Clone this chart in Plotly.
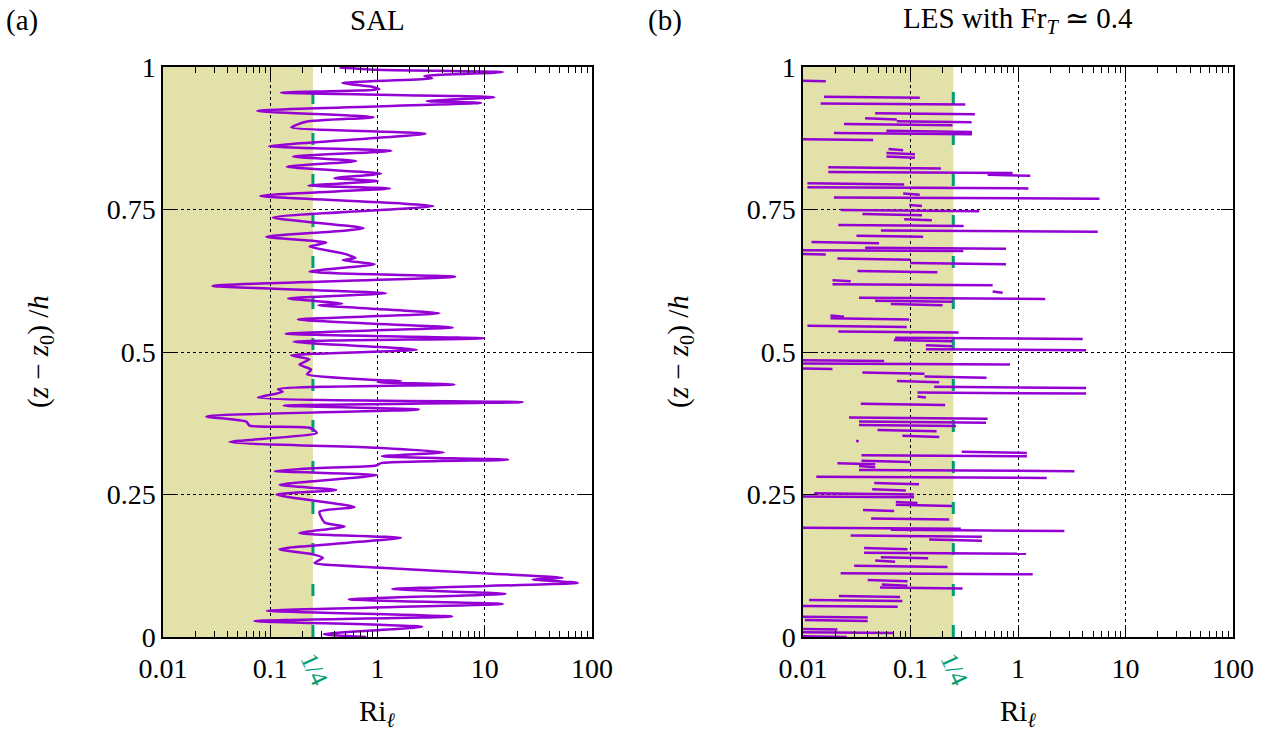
import plotly.graph_objects as go
import numpy as np

# ---------------- data ----------------
# (a) SAL: gradient Richardson number profile (Ri_l, z/h), bottom to top
sal_ri = [0.783, 0.316, 2.61, 0.0714, 4.96, 0.0931, 14.7, 0.541, 15.6, 1.37,
          73.5, 28.0, 53.3, 11.9, 0.973, 0.259, 0.310, 0.25, 0.122, 1.66,
          0.187, 0.493, 0.321, 0.288, 0.611, 0.114,
          0.412, 0.122, 0.993, 0.110, 0.25, 0.973, 1.08, 16.5, 1.10, 4.15,
          0.973, 0.0418, 0.272, 0.232, 0.0641, 0.0597, 0.0254, 2.43, 0.133,
          22.6, 0.0767, 0.131, 0.118, 5.22, 1.0, 1.67, 0.973, 0.220, 0.241,
          0.187, 0.232, 0.157, 2.32,
          0.165, 9.86, 0.139, 5.03, 0.841, 0.181, 3.78, 0.280, 0.469, 0.147,
          1.20, 0.0289, 5.29, 0.232, 0.938, 0.475, 0.624, 0.475, 0.232, 0.333,
          0.0918, 0.741, 0.106, 3.32,
          0.0807, 1.31, 0.226, 1.01, 0.397, 1.08, 0.143, 0.632, 0.163, 1.35,
          0.0973, 2.80, 0.157, 0.216, 0.918, 0.0757, 9.25, 2.88, 12.3, 0.126,
          1.04, 0.906, 0.469, 3.23, 2.74, 14.7, 0.973, 0.443]
sal_z = [0.000, 0.005, 0.018, 0.028, 0.036, 0.046, 0.058, 0.066, 0.076, 0.084,
         0.095, 0.101, 0.104, 0.111, 0.122, 0.130, 0.139, 0.145, 0.154, 0.174,
         0.182, 0.194, 0.201, 0.220, 0.228, 0.250,
         0.258, 0.267, 0.284, 0.291, 0.296, 0.301, 0.305, 0.311, 0.317, 0.324,
         0.332, 0.342, 0.358, 0.367, 0.371, 0.378, 0.387, 0.399, 0.406,
         0.412, 0.420, 0.430, 0.435, 0.443, 0.447, 0.449, 0.451, 0.461, 0.469,
         0.478, 0.487, 0.494, 0.504,
         0.518, 0.524, 0.532, 0.543, 0.550, 0.557, 0.568, 0.582, 0.585, 0.594,
         0.603, 0.616, 0.632, 0.641, 0.654, 0.661, 0.665, 0.673, 0.685, 0.692,
         0.702, 0.717, 0.736, 0.756,
         0.774, 0.787, 0.792, 0.800, 0.805, 0.813, 0.825, 0.835, 0.843, 0.853,
         0.861, 0.883, 0.894, 0.904, 0.912, 0.923, 0.937, 0.940, 0.947, 0.955,
         0.961, 0.965, 0.972, 0.980, 0.984, 0.991, 0.995, 0.999]

# (b) LES, Fr_T ~ 0.4: near-horizontal excursions of Ri_l at each height
# (values below 0.01 leave the axis on the left)
les_z = [0.977, 0.948, 0.936, 0.919, 0.910, 0.905, 0.900, 0.888, 0.884, 0.874,
         0.856, 0.849, 0.843, 0.824, 0.816, 0.811, 0.796, 0.789, 0.778, 0.771,
         0.758, 0.749, 0.742, 0.733, 0.723, 0.713, 0.704, 0.693, 0.683, 0.679,
         0.673, 0.664, 0.656, 0.642, 0.626, 0.619, 0.606, 0.595, 0.590, 0.584,
         0.564, 0.559, 0.546, 0.536, 0.525, 0.521, 0.512, 0.505, 0.486, 0.480,
         0.472, 0.464, 0.457, 0.449, 0.439, 0.429, 0.422, 0.409, 0.385, 0.378,
         0.372, 0.363, 0.353, 0.325, 0.319, 0.309, 0.305, 0.300, 0.293, 0.281,
         0.270, 0.259, 0.252, 0.247, 0.237, 0.232, 0.223, 0.208, 0.192, 0.188,
         0.178, 0.171, 0.156, 0.148, 0.140, 0.134, 0.125, 0.112, 0.100, 0.092,
         0.087, 0.072, 0.065, 0.055, 0.036, 0.030, 0.015, 0.009, 0.002]
les_lo = [0.005, 0.0157, 0.0146, 0.0469, 0.0378, 0.0746, 0.0241, 0.0597, 0.0194, 0.005,
          0.0624, 0.0597, 0.0597, 0.0172, 0.0172, 0.522, 0.0110, 0.0110, 0.0855, 0.0194,
          0.0972, 0.0224, 0.0357, 0.0873, 0.0213, 0.0530, 0.0314, 0.0120, 0.0378, 0.005,
          0.005, 0.0209, 0.0993, 0.0321, 0.0188, 0.0188, 0.581, 0.0332, 0.0469, 0.0656,
          0.0180, 0.0180, 0.0110, 0.0213, 0.072, 0.070, 0.139, 0.139, 0.005, 0.005,
          0.005, 0.0357, 0.135, 0.0748, 0.166, 0.116, 0.116, 0.0345, 0.0268, 0.0332,
          0.0332, 0.0493, 0.084, 0.30, 0.0350, 0.0350, 0.0209, 0.0332, 0.0332, 0.0133,
          0.046, 0.044, 0.0127, 0.005, 0.073, 0.073, 0.0362, 0.043, 0.005, 0.0656,
          0.0278, 0.149, 0.037, 0.037, 0.053, 0.0469, 0.0299, 0.0224, 0.040, 0.054,
          0.052, 0.0216, 0.0114, 0.005, 0.005, 0.0104, 0.005, 0.005, 0.005]
les_hi = [0.0163, 0.122, 0.323, 0.397, 0.0746, 0.370, 0.246, 0.373, 0.373, 0.0449,
          0.0855, 0.110, 0.110, 0.192, 0.891, 1.30, 0.0873, 1.25, 0.122, 5.73,
          0.128, 0.436, 0.128, 0.158, 0.312, 5.52, 0.131, 0.0510, 0.773, 0.31,
          0.0163, 0.0993, 0.773, 0.178, 0.0278, 0.581, 0.719, 1.79, 0.246, 0.199,
          0.0241, 0.0972, 0.0922, 0.280, 4.00, 0.246, 0.246, 4.30, 0.0569, 0.842,
          0.0188, 0.135, 0.51, 0.185, 4.30, 4.30, 0.139, 0.210, 0.522, 0.504,
          0.265, 0.175, 0.185, 1.21, 1.21, 0.100, 0.047, 0.047, 3.35, 1.85,
          0.120, 0.0906, 0.108, 0.108, 0.116, 0.243, 0.0705, 0.229, 0.294, 2.70,
          0.462, 0.462, 0.0938, 1.19, 0.146, 0.072, 0.221, 1.37, 0.0938, 0.0938,
          0.305, 0.080, 0.084, 0.076, 0.040, 0.040, 0.0209, 0.069, 0.0255]
les_dot_ri = [0.0321]
les_dot_z = [0.344]

RI_CRIT = 0.25
X_RANGE = [-2, 2]          # log10 of 0.01 .. 100
x_ticks = [0.01, 0.1, 1, 10, 100]
x_ticktext = ["0.01", "0.1", "1", "10", "100"]
y_ticks = [0, 0.25, 0.5, 0.75, 1]
y_ticktext = ["0", "0.25", "0.5", "0.75", "1"]

# ---------------- style ----------------
W, H = 1273, 736
FONT = "Liberation Serif"
PURPLE = "#9400d3"
GREEN = "#009e73"
SHADE = "#e1e1a9"
FS_TICK = 28
FS_TEXT = 29

def px_x(p):
    return p / W

def px_y(p):
    return 1 - p / H

dom_a = [px_x(163), px_x(592)]
dom_b = [px_x(803), px_x(1233)]
dom_y = [px_y(637), px_y(67)]

fig = go.Figure()

# critical Richardson number marker (dashed)
for xa, ya in (("x", "y"), ("x2", "y2")):
    fig.add_trace(go.Scatter(x=[RI_CRIT, RI_CRIT], y=[0, 1], mode="lines",
                             line=dict(color=GREEN, width=3, dash="12px,29px"),
                             xaxis=xa, yaxis=ya, showlegend=False, hoverinfo="skip"))

# SAL profile
fig.add_trace(go.Scatter(x=sal_ri, y=sal_z, mode="lines",
                         line=dict(color=PURPLE, width=2.5, shape="spline", smoothing=0.6),
                         xaxis="x", yaxis="y", showlegend=False))

# LES profile: one excursion per level
bx, by = [], []
for z, lo, hi in zip(les_z, les_lo, les_hi):
    bx += [lo, hi, None]
    by += [z, z - 0.002, None]
fig.add_trace(go.Scatter(x=bx, y=by, mode="lines",
                         line=dict(color=PURPLE, width=2.5),
                         xaxis="x2", yaxis="y2", showlegend=False, connectgaps=False))
fig.add_trace(go.Scatter(x=les_dot_ri, y=les_dot_z, mode="markers",
                         marker=dict(color=PURPLE, size=3),
                         xaxis="x2", yaxis="y2", showlegend=False))

xax = dict(type="log", range=X_RANGE, tickvals=x_ticks, ticktext=x_ticktext,
           showgrid=True, gridcolor="black", griddash="dot", gridwidth=1,
           ticks="inside", ticklen=12, tickwidth=1, tickcolor="black",
           mirror="allticks", showline=True, linecolor="black", linewidth=1.5,
           zeroline=False, automargin=False, ticklabelstandoff=6,
           tickfont=dict(family=FONT, size=FS_TICK, color="black"),
           minor=dict(ticks="inside", ticklen=6, tickwidth=1, tickcolor="black",
                      showgrid=False, dtick="D1"))
yax = dict(range=[0, 1], tickvals=y_ticks, ticktext=y_ticktext,
           showgrid=True, gridcolor="black", griddash="dot", gridwidth=1,
           ticks="inside", ticklen=12, tickwidth=1, tickcolor="black",
           mirror="allticks", showline=True, linecolor="black", linewidth=1.5,
           zeroline=False, automargin=False,
           tickfont=dict(family=FONT, size=FS_TICK, color="black"))

fig.update_layout(
    template="none",
    width=W, height=H,
    margin=dict(l=0, r=0, t=0, b=0, pad=0, autoexpand=False),
    paper_bgcolor="white", plot_bgcolor="rgba(0,0,0,0)",
    font=dict(family=FONT, size=FS_TEXT, color="black"),
    xaxis=dict(xax, domain=dom_a, anchor="y"),
    yaxis=dict(yax, domain=dom_y, anchor="x"),
    xaxis2=dict(xax, domain=dom_b, anchor="y2"),
    yaxis2=dict(yax, domain=dom_y, anchor="x2"),
)

# stable-stratification band Ri < 1/4 (in axis-domain fractions)
band_right = (np.log10(RI_CRIT) - X_RANGE[0]) / (X_RANGE[1] - X_RANGE[0])
for xr, yr in (("x domain", "y domain"), ("x2 domain", "y2 domain")):
    fig.add_shape(type="rect", xref=xr, yref=yr, x0=0, x1=band_right,
                  y0=0, y1=1, fillcolor=SHADE, line_width=0, layer="below")

ann = []
def text(x, y, s, size=FS_TEXT, color="black", angle=0, xa="center", ya="middle"):
    ann.append(dict(x=px_x(x), y=px_y(y), xref="paper", yref="paper", text=s,
                    showarrow=False, textangle=angle, xanchor=xa, yanchor=ya,
                    font=dict(family=FONT, size=size, color=color)))

text(22, 20, "(a)")
text(665, 20, "(b)")
text(377, 20, "SAL")
text(1018, 20, "LES with Fr<sub><i>T</i></sub> ≃ 0.4")
for cx in (377, 1018):
    text(cx, 713, "Ri<sub><i>ℓ</i></sub>")
for cx in (40, 680):
    text(cx, 352, "(<i>z</i> − <i>z</i><sub>0</sub>) /<i>h</i>", angle=-90)
for cx in (315, 955):
    text(cx, 669, "1/4", size=25, color=GREEN, angle=65)

fig.update_layout(annotations=ann)
fig.write_html("out.html")
